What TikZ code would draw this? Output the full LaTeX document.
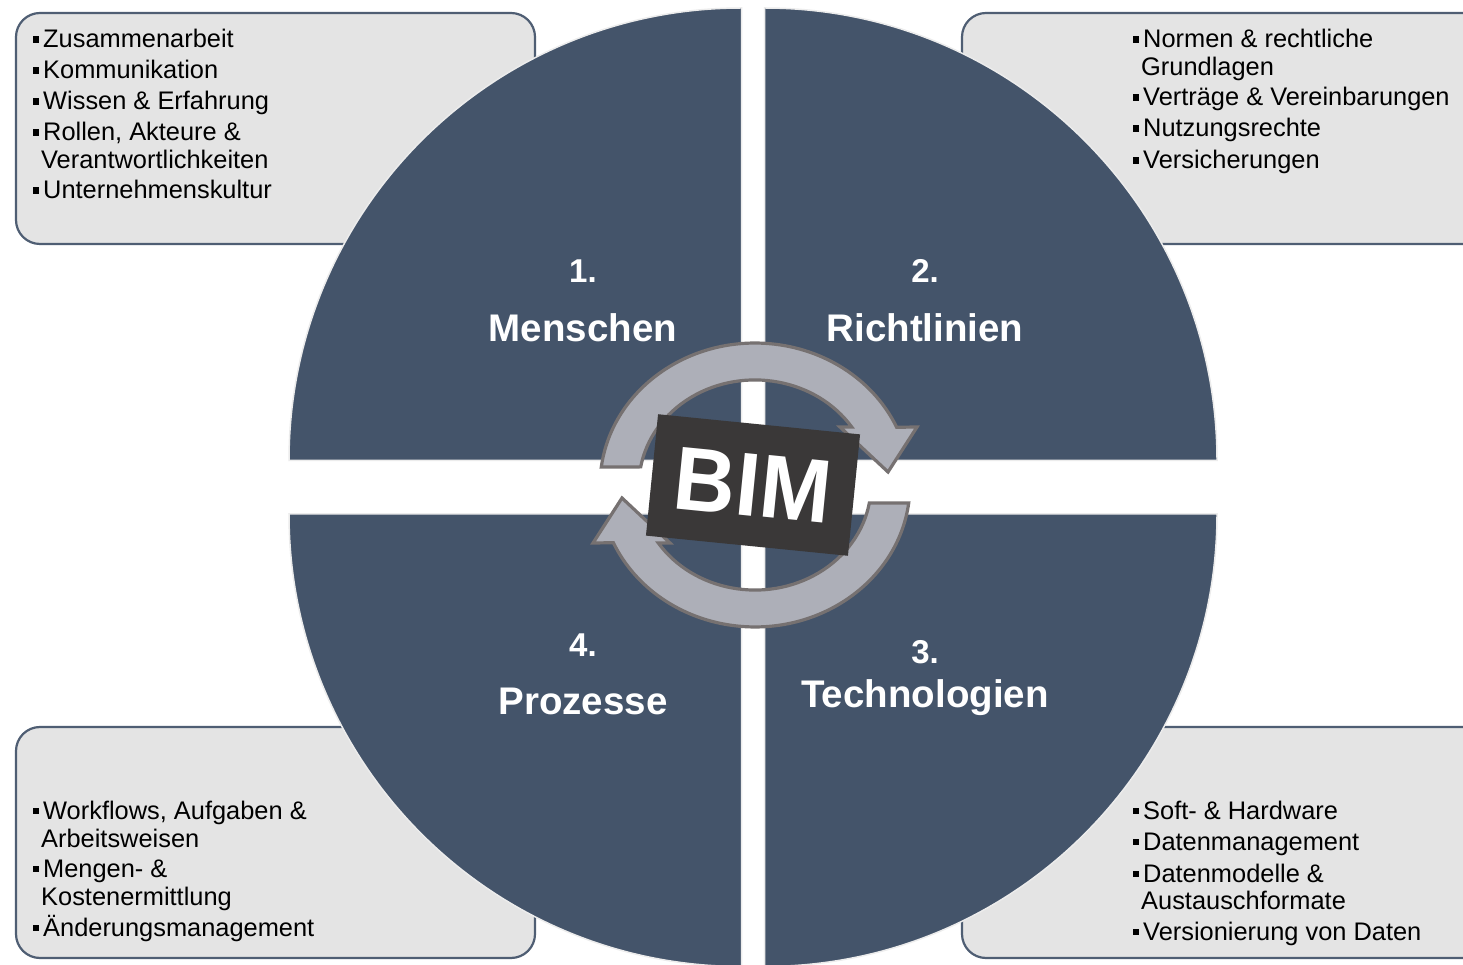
\documentclass[tikz,border=0pt]{standalone}
\usepackage{fontspec}
\setmainfont{Liberation Sans}
\definecolor{quad}{HTML}{44546A}
\definecolor{boxfill}{HTML}{E4E4E4}
\definecolor{boxline}{HTML}{4F5E73}
\definecolor{ringfill}{HTML}{ADAFB8}
\definecolor{ringline}{HTML}{767171}
\definecolor{bimfill}{HTML}{3A3838}
\newcommand{\bul}{\raisebox{5pt}{\rule{6pt}{6.5pt}}\hspace{4pt}}
\begin{document}
\begin{tikzpicture}[x=1pt,y=1pt,
  infobox/.style={draw=boxline, line width=2.2pt, fill=boxfill, rounded corners=24pt},
  quadrant/.style={fill=quad, draw=gray!15, line width=1.5pt},
  item/.style={anchor=base west, inner sep=0pt, font=\fontsize{25.4}{28}\selectfont, text=black},
  qnum/.style={anchor=base, inner sep=0pt, text=white, font=\bfseries\fontsize{33}{36}\selectfont},
  qlabel/.style={anchor=base, inner sep=0pt, text=white, font=\bfseries\fontsize{38.5}{42}\selectfont},
  ringarrow/.style={fill=ringfill, draw=ringline, line width=3.2pt, line join=miter},
  bimbox/.style={fill=bimfill, text=white, minimum width=203pt, minimum height=122pt, inner sep=0pt, font=\bfseries\fontsize{90}{96}\selectfont}
]
\useasboundingbox (0,0) rectangle (1463,964);
\clip (0,0) rectangle (1463,964);
\fill[white] (0,0) rectangle (1463,964);
% info boxes
\draw[infobox] (16,720) rectangle (535,951);
\draw[infobox] (962,720) rectangle (1495,951);
\draw[infobox] (16,6) rectangle (535,237);
\draw[infobox] (962,6) rectangle (1495,237);
% quadrants
\draw[quadrant] (741.5,503.5) -- ++(-452.5,0) arc[start angle=180, end angle=90, radius=452.5] -- cycle;
\draw[quadrant] (764.5,503.5) -- ++(0,452.5) arc[start angle=90, end angle=0, radius=452.5] -- cycle;
\draw[quadrant] (741.5,450) -- ++(-452.5,0) arc[start angle=180, end angle=270, radius=452.5] -- cycle;
\draw[quadrant] (764.5,450) -- ++(0,-452.5) arc[start angle=270, end angle=360, radius=452.5] -- cycle;
% ring arrows
\draw[ringarrow] (601.3,497) arc[start angle=172.7, end angle=24, x radius=155, y radius=142]
  -- (917,537) -- (888,492) -- (840,537) -- (851.7,537)
  arc[start angle=33.5, end angle=170.1, x radius=116, y radius=105] -- cycle;
\begin{scope}[rotate around={180:(755,479)}]
\draw[ringarrow] (601.3,497) arc[start angle=172.7, end angle=24, x radius=155, y radius=142]
  -- (917,537) -- (888,492) -- (840,537) -- (851.7,537)
  arc[start angle=33.5, end angle=170.1, x radius=116, y radius=105] -- cycle;
\end{scope}
% BIM
\node[bimbox, rotate=-5.7] (bim) at (753,479) {\scalebox{0.95}[1]{BIM}};
% quadrant labels
\node[qnum] (n1) at (583,681) {1.};
\node[qlabel] (l1) at (583,622) {Menschen};
\node[qnum] (n2) at (925,681) {2.};
\node[qlabel] (l2) at (925,622) {Richtlinien};
\node[qnum] (n4) at (583,307) {4.};
\node[qlabel] (l4) at (583,250) {Prozesse};
\node[qnum] (n3) at (925,300) {3.};
\node[qlabel] (l3) at (925,257) {Technologien};
% box 1
\node[item] (a1) at (33,916) {\bul Zusammenarbeit};
\node[item] (a2) at (33,885) {\bul Kommunikation};
\node[item] (a3) at (33,854) {\bul Wissen \& Erfahrung};
\node[item] (a4) at (33,823) {\bul Rollen, Akteure \&};
\node[item] (a5) at (41,795) {Verantwortlichkeiten};
\node[item] (a6) at (33,765) {\bul Unternehmenskultur};
% box 2
\node[item] (b1) at (1133,916) {\bul Normen \& rechtliche};
\node[item] (b2) at (1141,888) {Grundlagen};
\node[item] (b3) at (1133,858) {\bul Verträge \& Vereinbarungen};
\node[item] (b4) at (1133,827) {\bul Nutzungsrechte};
\node[item] (b5) at (1133,795) {\bul Versicherungen};
% box 3
\node[item] (c1) at (33,145) {\bul Workflows, Aufgaben \&};
\node[item] (c2) at (41,117) {Arbeitsweisen};
\node[item] (c3) at (33,87) {\bul Mengen- \&};
\node[item] (c4) at (41,59) {Kostenermittlung};
\node[item] (c5) at (33,28) {\bul Änderungsmanagement};
% box 4
\node[item] (d1) at (1133,145) {\bul Soft- \& Hardware};
\node[item] (d2) at (1133,114) {\bul Datenmanagement};
\node[item] (d3) at (1133,82) {\bul Datenmodelle \&};
\node[item] (d4) at (1141,55) {Austauschformate};
\node[item] (d5) at (1133,24) {\bul Versionierung von Daten};
\end{tikzpicture}
\end{document}
